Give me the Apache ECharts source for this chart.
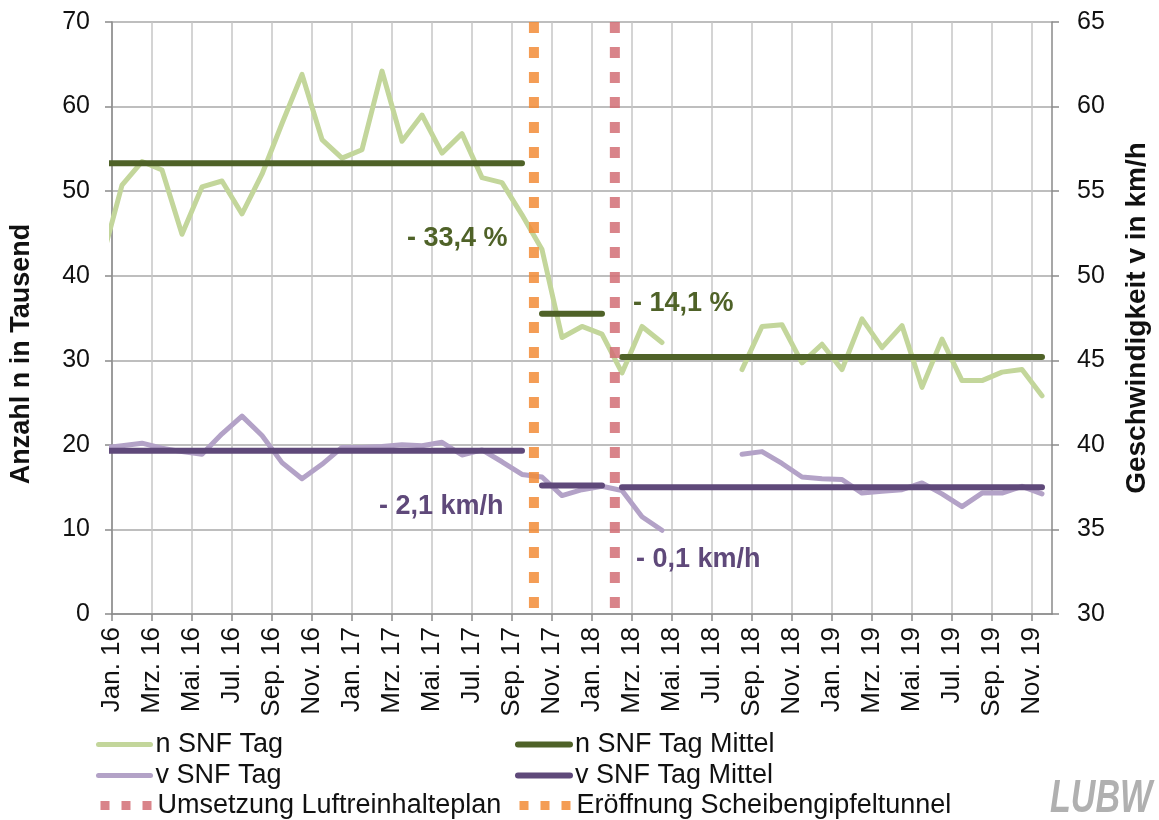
<!DOCTYPE html>
<html><head><meta charset="utf-8">
<script src="https://cdn.jsdelivr.net/npm/echarts@6/dist/echarts.min.js"></script>
<style>html,body{margin:0;padding:0;background:#fff}#c{width:1159px;height:820px}</style>
</head><body><div id="c"></div>
<script>
// ---- data ----
const months = ['Dez. 15','Jan. 16','Feb. 16','Mrz. 16','Apr. 16','Mai. 16','Jun. 16','Jul. 16','Aug. 16','Sep. 16','Okt. 16','Nov. 16','Dez. 16',
  'Jan. 17','Feb. 17','Mrz. 17','Apr. 17','Mai. 17','Jun. 17','Jul. 17','Aug. 17','Sep. 17','Okt. 17','Nov. 17','Dez. 17',
  'Jan. 18','Feb. 18','Mrz. 18','Apr. 18','Mai. 18','Jun. 18','Jul. 18','Aug. 18','Sep. 18','Okt. 18','Nov. 18','Dez. 18',
  'Jan. 19','Feb. 19','Mrz. 19','Apr. 19','Mai. 19','Jun. 19','Jul. 19','Aug. 19','Sep. 19','Okt. 19','Nov. 19'];
const axisStartMonth = 'Jan. 16';   // left edge of the x axis
const axisMonthCount = 47;          // axis runs Jan. 16 .. start of Dez. 19
const xTickLabels = ['Jan. 16','Mrz. 16','Mai. 16','Jul. 16','Sep. 16','Nov. 16',
  'Jan. 17','Mrz. 17','Mai. 17','Jul. 17','Sep. 17','Nov. 17',
  'Jan. 18','Mrz. 18','Mai. 18','Jul. 18','Sep. 18','Nov. 18',
  'Jan. 19','Mrz. 19','Mai. 19','Jul. 19','Sep. 19','Nov. 19'];
const nSnfTag = [41.9,
  50.7,53.5,52.5,44.9,50.5,51.2,47.3,52.0,58.0,63.8,56.1,53.9,
  54.9,64.2,55.9,59.0,54.5,56.8,51.6,51.0,47.2,43.1,32.7,34.0,
  33.1,28.5,34.0,32.1,null,null,null,28.9,34.0,34.2,29.7,31.9,
  28.9,34.9,31.5,34.1,26.8,32.5,27.6,27.6,28.6,28.9,25.8];
const vSnfTag = [39.8,
  39.95,40.1,39.8,39.6,39.45,40.65,41.7,40.55,38.95,38.0,38.85,39.85,
  39.85,39.9,40.0,39.95,40.15,39.4,39.7,39.0,38.25,38.1,37.0,37.35,
  37.55,37.3,35.75,34.95,null,null,null,39.45,39.6,38.9,38.1,38.0,
  37.95,37.15,37.25,37.35,37.75,37.1,36.35,37.15,37.15,37.55,37.1];
const periodFrom = ['Dez. 15','Okt. 17','Feb. 18'];
const periodTo   = ['Sep. 17','Jan. 18','Nov. 19'];
const nSnfMittel = [53.3, 35.5, 30.4];
const vSnfMittel = [39.65, 37.6, 37.5];
const eventNames = ['Umsetzung Luftreinhalteplan','Eröffnung Scheibengipfeltunnel'];
const eventDates = ['2018-02-05','2017-10-04'];
const leftTicks = {min:0, max:70, interval:10};
const rightTicks = {min:30, max:65, interval:5};

// ---- helpers ----
const startIdx = months.indexOf(axisStartMonth);
const mPos = i => i - startIdx + 0.5;            // centre of month i
const mStart = label => months.indexOf(label) - startIdx; // start of month
function datePos(s){
  const [y,m,d] = s.split('-').map(Number);
  const dim = new Date(y, m, 0).getDate();
  return (y-2016)*12 + (m-1) + (d-1)/dim;
}
const tickVals = xTickLabels.map(mStart);
const tickMap = {}; xTickLabels.forEach(l => tickMap[mStart(l)] = l);
const seriesData = arr => arr.map((v,i) => [mPos(i), v]);
function meanData(vals){
  const out = [];
  vals.forEach((v,k) => {
    const a = mPos(months.indexOf(periodFrom[k])), b = mPos(months.indexOf(periodTo[k]));
    if (k > 0) out.push([a - 0.5, null]);
    out.push([a, v], [b, v]);
  });
  return out;
}

const FONT = 'Liberation Sans, Arial, sans-serif';
const C = {nTag:'#c3d69b', nMit:'#4f6228', vTag:'#b3a2c7', vMit:'#5f497a', red:'rgba(210,110,118,0.85)', orange:'rgba(242,140,55,0.85)'};
const eventColors = [C.red, C.orange];

const chart = echarts.init(document.getElementById('c'), null, {renderer:'canvas'});
const dotted = eventNames.map((n,k) => {
  const x = datePos(eventDates[k]);
  return {name:n, type:'line', yAxisIndex:0, symbol:'none', showSymbol:false, z:5,
    data:[[x, leftTicks.max],[x, leftTicks.min]],
    lineStyle:{color:eventColors[k], width:10, type:[11,14], cap:'butt'}, itemStyle:{color:eventColors[k]}};
});

// legend: two columns, three rows
const legendCols = [91, 510];
const legendRows = [726, 757, 787];
const legendItems = [
  ['n SNF Tag', 'n SNF Tag Mittel'],
  ['v SNF Tag', 'v SNF Tag Mittel'],
  [eventNames[0], eventNames[1]]
];
const legends = [];
legendItems.forEach((row, r) => row.forEach((name, c) => {
  const item = r === 2 ? {name, lineStyle:{width:9, type:[9,12], cap:'butt'}} : {name};
  legends.push({left:legendCols[c], top:legendRows[r], orient:'horizontal', itemWidth:52, itemHeight:14,
    textStyle:{fontSize:27, color:'#111', fontFamily:FONT, lineHeight:27},
    lineStyle:{width:'inherit'},
    itemStyle:{color:'rgba(0,0,0,0)', borderWidth:0, borderColor:'rgba(0,0,0,0)'},
    data:[item]});
}));

const option = {
  animation:false,
  backgroundColor:'#fff',
  textStyle:{fontFamily:FONT},
  grid:{left:106, right:100, top:22, bottom:206, containLabel:false},
  xAxis:{type:'value', min:0, max:axisMonthCount, interval:1,
    splitLine:{show:true, lineStyle:{color:'#c6c6c6', width:1.5}},
    axisLine:{show:true, onZero:false, lineStyle:{color:'#8a8a8a', width:1.5}},
    axisTick:{show:true, customValues:tickVals, length:7, lineStyle:{color:'#8a8a8a', width:1.5}},
    axisLabel:{customValues:tickVals, rotate:90, margin:13, fontSize:26, color:'#111', fontFamily:FONT,
      formatter: v => tickMap[Math.round(v)] || ''}
  },
  yAxis:[
    {type:'value', position:'left', min:leftTicks.min, max:leftTicks.max, interval:leftTicks.interval,
      name:'Anzahl n in Tausend', nameLocation:'middle', nameGap:77, nameRotate:90,
      nameTextStyle:{fontSize:27, fontWeight:'bold', color:'#111', fontFamily:FONT, padding:[0,72,0,0]},
      splitLine:{show:true, lineStyle:{color:'#a8a8a8', width:1.5}},
      axisLine:{show:true, lineStyle:{color:'#8a8a8a', width:1.5}},
      axisTick:{show:true, length:7, lineStyle:{color:'#8a8a8a', width:1.5}},
      axisLabel:{fontSize:25, color:'#111', margin:22, fontFamily:FONT}},
    {type:'value', position:'right', min:rightTicks.min, max:rightTicks.max, interval:rightTicks.interval,
      name:'Geschwindigkeit v in km/h', nameLocation:'middle', nameGap:71, nameRotate:90,
      nameTextStyle:{fontSize:28, fontWeight:'bold', color:'#111', fontFamily:FONT, padding:[0,0,0,0]},
      splitLine:{show:false},
      axisLine:{show:true, lineStyle:{color:'#8a8a8a', width:1.5}},
      axisTick:{show:true, length:7, lineStyle:{color:'#8a8a8a', width:1.5}},
      axisLabel:{fontSize:25, color:'#111', margin:25, fontFamily:FONT}}
  ],
  legend:legends,
  series:[
    {name:'n SNF Tag', type:'line', yAxisIndex:0, symbol:'none', z:2, connectNulls:false,
      data:seriesData(nSnfTag), lineStyle:{color:C.nTag, width:5, join:'round', cap:'round'}, itemStyle:{color:C.nTag}},
    {name:'v SNF Tag', type:'line', yAxisIndex:1, symbol:'none', z:2, connectNulls:false,
      data:seriesData(vSnfTag), lineStyle:{color:C.vTag, width:5, join:'round', cap:'round'}, itemStyle:{color:C.vTag}},
    {name:'n SNF Tag Mittel', type:'line', yAxisIndex:0, symbol:'none', z:3, connectNulls:false,
      data:meanData(nSnfMittel), lineStyle:{color:C.nMit, width:6, cap:'round'}, itemStyle:{color:C.nMit}},
    {name:'v SNF Tag Mittel', type:'line', yAxisIndex:1, symbol:'none', z:3, connectNulls:false,
      data:meanData(vSnfMittel), lineStyle:{color:C.vMit, width:6, cap:'round'}, itemStyle:{color:C.vMit}},
    ...dotted
  ],
  graphic:[
    {type:'text', left:407, top:225, z:10, style:{text:'- 33,4 %', font:'bold 27px '+FONT, fill:C.nMit}},
    {type:'text', left:633, top:290, z:10, style:{text:'- 14,1 %', font:'bold 27px '+FONT, fill:C.nMit}},
    {type:'text', left:379, top:493, z:10, style:{text:'- 2,1 km/h', font:'bold 27px '+FONT, fill:C.vMit}},
    {type:'text', left:636, top:546, z:10, style:{text:'- 0,1 km/h', font:'bold 27px '+FONT, fill:C.vMit}},
    {type:'text', left:1050, top:776, z:10, scaleX:0.74, style:{text:'LUBW', font:'italic bold 46px "Liberation Sans", Arial, sans-serif', fill:'#b0b0b0'}}
  ]
};
chart.setOption(option);
</script></body></html>
